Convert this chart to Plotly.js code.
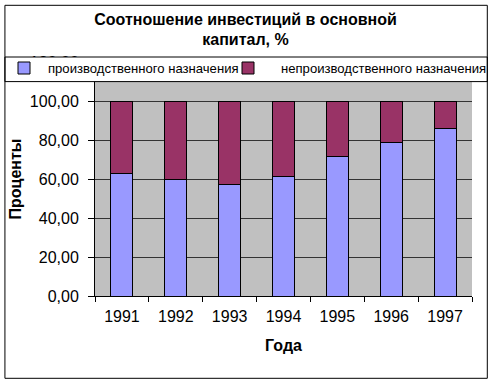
<!DOCTYPE html>
<html>
<head>
<meta charset="utf-8">
<script src="https://cdn.plot.ly/plotly-3.0.1.min.js"></script>
<style>html,body{margin:0;padding:0;background:#fff;}#chart{width:494px;height:384px;}</style>
</head>
<body>
<div id="chart"></div>
<script>
var years = ['1991', '1992', '1993', '1994', '1995', '1996', '1997'];
var production = [63.0, 60.0, 57.2, 61.3, 71.6, 78.5, 86.1];
var nonProduction = [37.0, 40.0, 42.8, 38.7, 28.4, 21.5, 13.9];
var seriesNames = ['производственного назначения', 'непроизводственного назначения'];
var yTicks = [0, 20, 40, 60, 80, 100, 120];

var FONT = 'Liberation Sans, Arial, sans-serif';
var W = 494, H = 384;
var L = 95, R = 22.3, T = 61.7, B = 88.3;
var pw = W - L - R, ph = H - T - B;
function px(x) { return (x - L) / pw; }
function py(y) { return (H - B - y) / ph; }

var traces = [
  {
    type: 'bar', x: years, y: production, name: seriesNames[0],
    legend: 'legend',
    marker: {color: '#9999FF', line: {color: '#000000', width: 1}},
    hoverinfo: 'x+y'
  },
  {
    type: 'bar', x: years, y: nonProduction, name: seriesNames[1],
    legend: 'legend2',
    marker: {color: '#993366', line: {color: '#000000', width: 1}},
    hoverinfo: 'x+y'
  }
];

function legendAt(xLeft, itemW) {
  return {
    orientation: 'h',
    xref: 'container', yref: 'container',
    x: xLeft / W, xanchor: 'left',
    y: 1 - 68.5 / H, yanchor: 'middle',
    bgcolor: 'rgba(0,0,0,0)', borderwidth: 0,
    font: {family: FONT, size: 13.1, color: '#000000'},
    itemwidth: itemW,
    itemclick: false, itemdoubleclick: false
  };
}

var layout = {
  width: W, height: H,
  margin: {l: L, r: R, t: T, b: B, pad: 0, autoexpand: false},
  paper_bgcolor: '#ffffff',
  plot_bgcolor: '#C0C0C0',
  separators: ', ',
  font: {family: FONT, color: '#000000', size: 16},
  barmode: 'stack',
  bargap: 0.59,
  title: {
    text: 'Соотношение инвестиций в основной<br>капитал, %',
    font: {family: FONT, size: 16, weight: 'bold', color: '#000000'},
    x: 0.497, xanchor: 'center', xref: 'container',
    y: 1 - 24.5 / H, yanchor: 'middle', yref: 'container'
  },
  xaxis: {
    type: 'category',
    tickson: 'boundaries',
    ticks: 'outside', ticklen: 5, tickcolor: '#000000', tickwidth: 1,
    showline: true, linecolor: '#000000', linewidth: 1,
    showgrid: false, zeroline: false,
    tickfont: {family: FONT, size: 16, color: '#000000'},
    ticklabelstandoff: 6,
    automargin: false,
    title: {text: 'Года', font: {family: FONT, size: 16, weight: 'bold', color: '#000000'}, standoff: 15}
  },
  yaxis: {
    range: [0, 120],
    tickvals: yTicks,
    tickformat: '.2f',
    ticks: 'outside', ticklen: 6, tickcolor: '#000000', tickwidth: 1,
    showline: true, linecolor: '#000000', linewidth: 1,
    showgrid: true, gridcolor: '#333333', gridwidth: 1,
    zeroline: false,
    automargin: false,
    tickfont: {family: FONT, size: 16, color: '#000000'},
    ticklabelstandoff: 6,
    title: {text: 'Проценты', font: {family: FONT, size: 16, weight: 'bold', color: '#000000'}, standoff: 4}
  },
  showlegend: true,
  legend: legendAt(0, 38),
  legend2: legendAt(215, 56),
  shapes: [
    {type: 'rect', xref: 'paper', yref: 'paper', layer: 'above',
     x0: px(5), x1: px(487), y0: py(81.3), y1: py(56.7),
     fillcolor: '#ffffff', line: {color: '#000000', width: 1}},
    {type: 'rect', xref: 'paper', yref: 'paper', layer: 'above',
     x0: px(5), x1: px(487), y0: py(378), y1: py(5),
     fillcolor: 'rgba(0,0,0,0)', line: {color: '#000000', width: 1}}
  ]
};

Plotly.newPlot('chart', traces, layout, {displayModeBar: false, staticPlot: true});
</script>
</body>
</html>
